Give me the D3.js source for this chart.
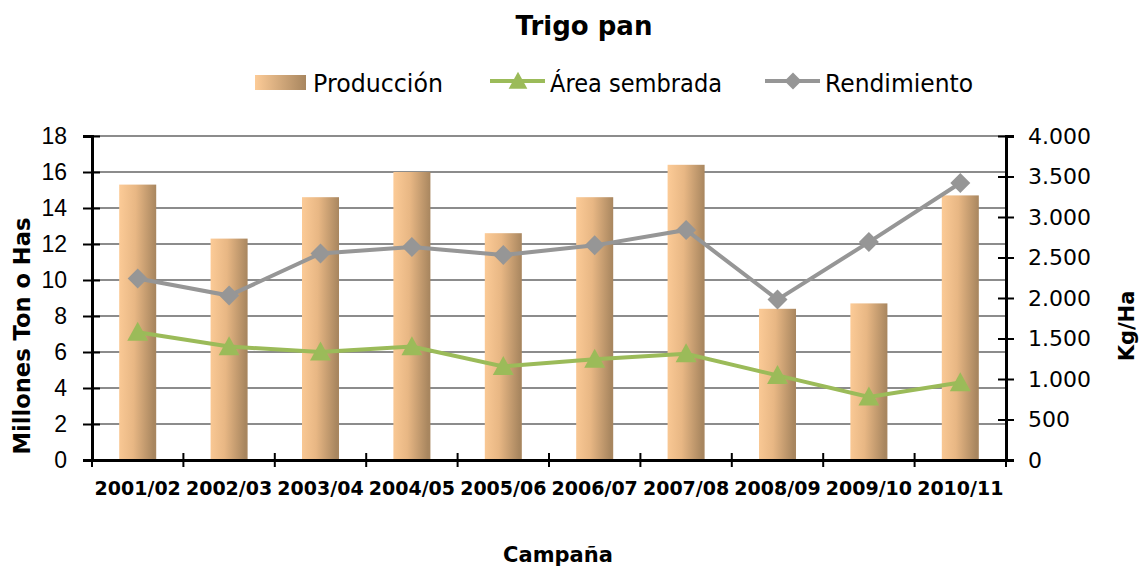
<!DOCTYPE html>
<html>
<head>
<meta charset="utf-8">
<script src="https://cdn.jsdelivr.net/npm/d3@7/dist/d3.min.js"></script>
<style>
	body { margin:0; background:#fff; }
	svg { display:block; }
	.axis path, .axis line { stroke:#000; }
	.grid line { stroke:#8c8c8c; stroke-width:2; }
</style>
</head>
<body>
<div id="svgContainer"></div>
<script>
// data
var campanas = ['2001/02','2002/03','2003/04','2004/05','2005/06','2006/07','2007/08','2008/09','2009/10','2010/11'];
var produccion = [15.3, 12.3, 14.6, 16.0, 12.6, 14.6, 16.4, 8.4, 8.7, 14.7];   // millones ton
var areaSembrada = [7.1, 6.3, 6.0, 6.3, 5.2, 5.6, 5.9, 4.7, 3.5, 4.3];       // millones has
var rendimiento = [2240, 2030, 2550, 2630, 2530, 2650, 2840, 1980, 2690, 3420]; // kg/ha
var leftTicks = [0, 2, 4, 6, 8, 10, 12, 14, 16, 18];
var rightTicks = [0, 500, 1000, 1500, 2000, 2500, 3000, 3500, 4000];
var legendLabels = ['Producción', 'Área sembrada', 'Rendimiento'];

const width = 1141, height = 570;
const margin = {top:136, bottom:110, left:92, right:135};
const green = '#9bbb59', gray = '#969696';

var svg = d3.select('#svgContainer').append('svg')
	.attr('width', width)
	.attr('height', height);

// wood-like gradient for the bars
var defs = svg.append('defs');
var grad = defs.append('linearGradient')
	.attr('id', 'wood')
	.attr('x1', 0).attr('y1', 0).attr('x2', 1).attr('y2', 0.08);
grad.append('stop').attr('offset', '0%').attr('stop-color', '#fccb97');
grad.append('stop').attr('offset', '45%').attr('stop-color', '#e8b784');
grad.append('stop').attr('offset', '100%').attr('stop-color', '#a8865f');

var xScale = d3.scaleBand()
	.domain(campanas)
	.range([margin.left, width - margin.right])
	.paddingInner(0.595)
	.paddingOuter(0.2975);
var yScale = d3.scaleLinear().domain([0, 18]).range([height - margin.bottom, margin.top]);
var y2Scale = d3.scaleLinear().domain([0, 4000]).range([height - margin.bottom, margin.top]);

var thousands = d3.formatLocale({decimal:',', thousands:'.', grouping:[3], currency:['','']}).format(',');

// horizontal gridlines
svg.append('g').attr('class', 'grid')
	.selectAll('line')
	.data(leftTicks.slice(1))
	.enter().append('line')
	.attr('x1', margin.left).attr('x2', width - margin.right)
	.attr('y1', function(d){ return yScale(d); })
	.attr('y2', function(d){ return yScale(d); });

// bars
svg.append('g').selectAll('rect')
	.data(produccion)
	.enter().append('rect')
	.attr('x', function(d, i){ return xScale(campanas[i]); })
	.attr('y', function(d){ return yScale(d); })
	.attr('width', xScale.bandwidth())
	.attr('height', function(d){ return yScale(0) - yScale(d); })
	.attr('fill', 'url(#wood)');

// axes
var xAxis = d3.axisBottom(xScale).tickSize(0).tickFormat('');
var yAxis = d3.axisLeft(yScale).tickValues(leftTicks).tickSize(9).tickFormat('');
var y2Axis = d3.axisRight(y2Scale).tickValues(rightTicks).tickSize(8).tickFormat('');

svg.append('g').attr('class', 'y axis')
	.attr('transform', 'translate(' + margin.left + ',0)')
	.call(yAxis);
svg.append('g').attr('class', 'y2 axis')
	.attr('transform', 'translate(' + (width - margin.right) + ',0)')
	.call(y2Axis);
svg.append('g').attr('class', 'x axis')
	.attr('transform', 'translate(0,' + yScale(0) + ')')
	.call(xAxis);

svg.selectAll('.axis path').attr('stroke-width', 3);
svg.selectAll('.y.axis .tick line').attr('x1', 8).attr('x2', -9).attr('stroke-width', 2);
svg.selectAll('.y2.axis .tick line').attr('x1', -8).attr('x2', 8).attr('stroke-width', 2);

// category boundary ticks
var bounds = campanas.map(function(c){ return xScale(c) - xScale.step() * xScale.paddingOuter(); });
bounds.push(width - margin.right);
svg.append('g').selectAll('line')
	.data(bounds)
	.enter().append('line')
	.attr('x1', function(d){ return d; }).attr('x2', function(d){ return d; })
	.attr('y1', yScale(0) - 7).attr('y2', yScale(0) + 7)
	.attr('stroke', '#000').attr('stroke-width', 2);

// tick labels
svg.append('g').selectAll('text')
	.data(leftTicks)
	.enter().append('text')
	.attr('x', 67)
	.attr('y', function(d){ return yScale(d); })
	.attr('dy', '0.36em')
	.attr('text-anchor', 'end')
	.style('font', '23px "Liberation Sans", Arial, sans-serif')
	.text(function(d){ return d; });

svg.append('g').selectAll('text')
	.data(rightTicks)
	.enter().append('text')
	.attr('x', 1028)
	.attr('y', function(d){ return y2Scale(d); })
	.attr('dy', '0.36em')
	.style('font', '22px "DejaVu Sans", sans-serif')
	.text(function(d){ return thousands(d); });

svg.append('g').selectAll('text')
	.data(campanas)
	.enter().append('text')
	.attr('x', function(d){ return xScale(d) + xScale.bandwidth() / 2; })
	.attr('y', 495)
	.attr('text-anchor', 'middle')
	.style('font', 'bold 19px "DejaVu Sans", sans-serif')
	.text(function(d){ return d; });

// lines
var lineArea = d3.line()
	.x(function(d, i){ return xScale(campanas[i]) + xScale.bandwidth() / 2; })
	.y(function(d){ return yScale(d); });
var lineRend = d3.line()
	.x(function(d, i){ return xScale(campanas[i]) + xScale.bandwidth() / 2; })
	.y(function(d){ return y2Scale(d); });

function triangle(s){ return 'M0,' + (-s * 0.55) + 'L' + (s * 0.55) + ',' + (s * 0.45) + 'L' + (-s * 0.55) + ',' + (s * 0.45) + 'Z'; }
function diamond(s){ return 'M0,' + (-s/2) + 'L' + (s/2) + ',0L0,' + (s/2) + 'L' + (-s/2) + ',0Z'; }

svg.append('path').datum(rendimiento)
	.attr('d', lineRend)
	.attr('fill', 'none').attr('stroke', gray).attr('stroke-width', 4);
svg.append('g').selectAll('path')
	.data(rendimiento)
	.enter().append('path')
	.attr('transform', function(d, i){ return 'translate(' + (xScale(campanas[i]) + xScale.bandwidth() / 2) + ',' + y2Scale(d) + ')'; })
	.attr('d', diamond(20))
	.attr('fill', gray);

svg.append('path').datum(areaSembrada)
	.attr('d', lineArea)
	.attr('fill', 'none').attr('stroke', green).attr('stroke-width', 4);
svg.append('g').selectAll('path')
	.data(areaSembrada)
	.enter().append('path')
	.attr('transform', function(d, i){ return 'translate(' + (xScale(campanas[i]) + xScale.bandwidth() / 2) + ',' + yScale(d) + ')'; })
	.attr('d', triangle(19))
	.attr('fill', green);

// title
svg.append('text')
	.attr('x', 584).attr('y', 35)
	.attr('text-anchor', 'middle')
	.style('font', 'bold 26px "DejaVu Sans", sans-serif')
	.text('Trigo pan');

// axis titles
svg.append('text')
	.attr('transform', 'translate(30,336) rotate(-90)')
	.attr('text-anchor', 'middle')
	.style('font', 'bold 23px "DejaVu Sans", sans-serif')
	.attr('textLength', 237).attr('lengthAdjust', 'spacingAndGlyphs')
	.text('Millones Ton o Has');
svg.append('text')
	.attr('transform', 'translate(1134,326) rotate(-90)')
	.attr('text-anchor', 'middle')
	.style('font', 'bold 21px "DejaVu Sans", sans-serif')
	.text('Kg/Ha');
svg.append('text')
	.attr('x', 558).attr('y', 562)
	.attr('text-anchor', 'middle')
	.style('font', 'bold 21px "DejaVu Sans", sans-serif')
	.text('Campaña');

// legend
var legend = svg.append('g').attr('class', 'legend');
var lgGrad = defs.append('linearGradient')
	.attr('id', 'woodLegend')
	.attr('x1', 0).attr('y1', 0).attr('x2', 1).attr('y2', 0);
lgGrad.append('stop').attr('offset', '0%').attr('stop-color', '#fccb97');
lgGrad.append('stop').attr('offset', '100%').attr('stop-color', '#a8865f');

legend.append('rect')
	.attr('x', 255).attr('y', 75).attr('width', 51).attr('height', 15)
	.attr('fill', 'url(#woodLegend)');
legend.append('line')
	.attr('x1', 490).attr('x2', 545).attr('y1', 81).attr('y2', 81)
	.attr('stroke', green).attr('stroke-width', 4);
legend.append('path')
	.attr('transform', 'translate(518,81)')
	.attr('d', triangle(17)).attr('fill', green);
legend.append('line')
	.attr('x1', 765).attr('x2', 820).attr('y1', 81).attr('y2', 81)
	.attr('stroke', gray).attr('stroke-width', 4);
legend.append('path')
	.attr('transform', 'translate(793,81)')
	.attr('d', diamond(17)).attr('fill', gray);

var legendX = [313, 550, 825], legendW = [130, 172, 148];
legend.selectAll('text')
	.data(legendLabels)
	.enter().append('text')
	.attr('x', function(d, i){ return legendX[i]; })
	.attr('y', 92)
	.attr('textLength', function(d, i){ return legendW[i]; })
	.attr('lengthAdjust', 'spacingAndGlyphs')
	.style('font', '24px "DejaVu Sans", sans-serif')
	.text(function(d){ return d; });
</script>
</body>
</html>
